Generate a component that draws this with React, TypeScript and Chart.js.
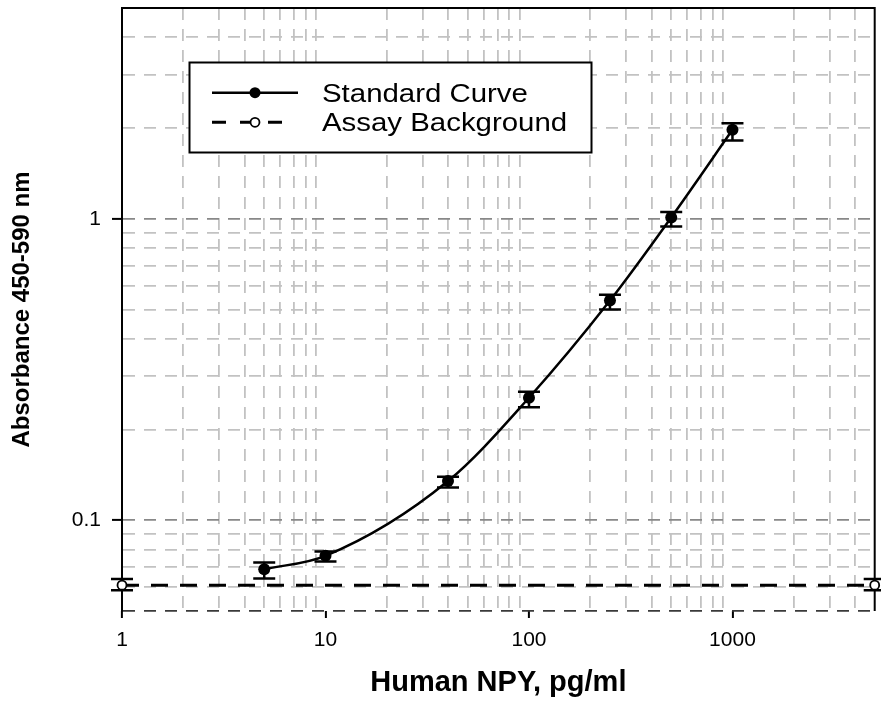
import React, { useEffect, useRef } from 'react';
import { Chart, registerables } from 'chart.js';

Chart.register(...registerables);

// ---- data ----
const concentrations = [5, 10, 40, 100, 250, 500, 1000];
const absorbance = [0.0688, 0.0762, 0.1349, 0.2549, 0.5353, 1.01, 1.972];
const absorbanceUpper = [0.0724, 0.0788, 0.1395, 0.2668, 0.56, 1.052, 2.074];
const absorbanceLower = [0.0641, 0.073, 0.1283, 0.2372, 0.4996, 0.943, 1.816];

const backgroundX = [1, 5000];
const backgroundY = [0.0609, 0.0609];
const backgroundUpper = [0.0638, 0.0638];
const backgroundLower = [0.0586, 0.0586];

const xGridValues = [
  1, 2, 3, 4, 5, 6, 7, 8, 9,
  10, 20, 30, 40, 50, 60, 70, 80, 90,
  100, 200, 300, 400, 500, 600, 700, 800, 900,
  1000, 2000, 3000, 4000, 5000,
];
const xLabelValues = [1, 10, 100, 1000];
const xTickLabels = ['1', '10', '100', '1000'];

const yGridValues = [
  0.05, 0.06, 0.07, 0.08, 0.09,
  0.1, 0.2, 0.3, 0.4, 0.5, 0.6, 0.7, 0.8, 0.9,
  1, 2, 3, 4, 5,
];
const yLabelValues = [0.1, 1];
const yTickLabels = ['0.1', '1'];

const seriesNames = ['Standard Curve', 'Assay Background'];
const xTitle = 'Human NPY, pg/ml';
const yTitle = 'Absorbance 450-590 nm';

const FONT = "'Liberation Sans', Arial, Helvetica, sans-serif";
const LIGHT = '#c2c2c2';
const MID = '#888888';
const DARK = '#3a3a3a';
const TRANSPARENT = 'rgba(0,0,0,0)';

const errorSets = [
  { xs: concentrations, upper: absorbanceUpper, lower: absorbanceLower },
  { xs: backgroundX, upper: backgroundUpper, lower: backgroundLower },
];

const errorBarPlugin = {
  id: 'errorBars',
  beforeDatasetsDraw(chart: any) {
    const { ctx } = chart;
    const xs = chart.scales.x;
    const ys = chart.scales.y;
    const area = chart.chartArea;
    ctx.save();
    // frame: top and right edges
    ctx.strokeStyle = '#000';
    ctx.lineWidth = 2;
    ctx.setLineDash([]);
    ctx.beginPath();
    ctx.moveTo(area.left, area.top);
    ctx.lineTo(area.right, area.top);
    ctx.lineTo(area.right, area.bottom);
    ctx.stroke();
    // error bars
    const half = 11;
    ctx.lineWidth = 2.5;
    errorSets.forEach((set) => {
      set.xs.forEach((xv, i) => {
        const x = xs.getPixelForValue(xv);
        const yU = ys.getPixelForValue(set.upper[i]);
        const yL = ys.getPixelForValue(set.lower[i]);
        ctx.beginPath();
        ctx.moveTo(x, yU);
        ctx.lineTo(x, yL);
        ctx.moveTo(x - half, yU);
        ctx.lineTo(x + half, yU);
        ctx.moveTo(x - half, yL);
        ctx.lineTo(x + half, yL);
        ctx.stroke();
      });
    });
    ctx.restore();
  },
};

const legendPlugin = {
  id: 'insideLegend',
  afterDraw(chart: any) {
    const { ctx } = chart;
    ctx.save();
    // box
    ctx.fillStyle = '#fff';
    ctx.fillRect(189.5, 62.5, 402, 90);
    ctx.strokeStyle = '#000';
    ctx.lineWidth = 2;
    ctx.setLineDash([]);
    ctx.strokeRect(189.5, 62.5, 402, 90);

    const rows = [92.7, 122.3];
    const baselines = [101.7, 130.7];
    // row 1: solid line + filled marker
    ctx.lineWidth = 2.5;
    ctx.beginPath();
    ctx.moveTo(212, rows[0]);
    ctx.lineTo(298, rows[0]);
    ctx.stroke();
    ctx.fillStyle = '#000';
    ctx.beginPath();
    ctx.arc(255, rows[0], 5.5, 0, Math.PI * 2);
    ctx.fill();
    // row 2: dashed line + open marker
    ctx.lineWidth = 3;
    ctx.setLineDash([14, 14]);
    ctx.beginPath();
    ctx.moveTo(212, rows[1]);
    ctx.lineTo(291, rows[1]);
    ctx.stroke();
    ctx.setLineDash([]);
    ctx.fillStyle = '#fff';
    ctx.lineWidth = 1.8;
    ctx.beginPath();
    ctx.arc(255, rows[1], 4.5, 0, Math.PI * 2);
    ctx.fill();
    ctx.stroke();

    // texts (slightly widened to match the reference lettering)
    ctx.fillStyle = '#000';
    ctx.font = `25.5px ${FONT}`;
    ctx.textBaseline = 'alphabetic';
    ctx.textAlign = 'left';
    seriesNames.forEach((name, i) => {
      ctx.save();
      ctx.translate(322, baselines[i]);
      ctx.scale(1.153, 1);
      ctx.fillText(name, 0, 0);
      ctx.restore();
    });
    ctx.restore();
  },
};

export default function App() {
  const ref = useRef<HTMLCanvasElement>(null);

  useEffect(() => {
    const canvas = ref.current;
    if (!canvas) return;
    const chart = new Chart(canvas, {
      type: 'line',
      data: {
        datasets: [
          {
            label: seriesNames[0],
            data: concentrations.map((x, i) => ({ x, y: absorbance[i] })),
            borderColor: '#000',
            backgroundColor: '#000',
            borderWidth: 2.5,
            pointRadius: 6,
            pointBackgroundColor: '#000',
            pointBorderColor: '#000',
            pointBorderWidth: 0,
            cubicInterpolationMode: 'monotone',
            fill: false,
          },
          {
            label: seriesNames[1],
            data: backgroundX.map((x, i) => ({ x, y: backgroundY[i] })),
            borderColor: '#000',
            backgroundColor: '#fff',
            borderWidth: 3,
            borderDash: [17, 12],
            pointRadius: 4.5,
            pointBackgroundColor: '#fff',
            pointBorderColor: '#000',
            pointBorderWidth: 1.8,
            fill: false,
            clip: false,
          } as any,
        ],
      },
      options: {
        responsive: false,
        animation: false,
        events: [],
        layout: { padding: { left: 0, top: 8, right: 4, bottom: 0 } },
        plugins: {
          legend: { display: false },
          tooltip: { enabled: false },
        },
        scales: {
          x: {
            type: 'logarithmic',
            min: 1,
            max: 5000,
            afterBuildTicks: (s: any) => {
              s.ticks = xGridValues.map((v) => ({ value: v }));
            },
            afterFit: (s: any) => {
              s.height = 91;
              s.paddingLeft = 0;
              s.paddingRight = 0;
            },
            ticks: {
              autoSkip: false,
              maxRotation: 0,
              minRotation: 0,
              padding: 10,
              color: '#000',
              font: { family: FONT, size: 21 },
              callback: (v: any) => {
                const k = xLabelValues.indexOf(Number(v));
                return k >= 0 ? xTickLabels[k] : '';
              },
            },
            grid: {
              lineWidth: 1.8,
              color: (c: any) => {
                const v = c.tick ? c.tick.value : 0;
                if (v === 1 || v === 5000 || xLabelValues.includes(v)) return TRANSPARENT;
                return LIGHT;
              },
              tickLength: 7,
              tickWidth: 2,
              tickColor: (c: any) => {
                const v = c.tick ? c.tick.value : 0;
                return xLabelValues.includes(v) ? '#000' : TRANSPARENT;
              },
            },
            border: { display: false, dash: [12, 9] },
            title: {
              display: true,
              text: xTitle,
              color: '#000',
              font: { family: FONT, size: 29, weight: 'bold' },
              padding: { top: 0, bottom: 2 },
            },
          },
          y: {
            type: 'logarithmic',
            min: 0.05,
            max: 5,
            afterBuildTicks: (s: any) => {
              s.ticks = yGridValues.map((v) => ({ value: v }));
            },
            afterFit: (s: any) => {
              s.width = 122;
              s.paddingTop = 0;
              s.paddingBottom = 0;
            },
            ticks: {
              autoSkip: false,
              padding: 11,
              color: '#000',
              font: { family: FONT, size: 21 },
              callback: (v: any) => {
                const k = yLabelValues.indexOf(Number(v));
                return k >= 0 ? yTickLabels[k] : '';
              },
            },
            grid: {
              lineWidth: 1.8,
              color: (c: any) => {
                const v = c.tick ? c.tick.value : 0;
                if (v === 5) return TRANSPARENT;
                if (v === 0.05) return DARK;
                if (yLabelValues.includes(v)) return MID;
                return LIGHT;
              },
              tickLength: 10,
              tickWidth: 2,
              tickColor: (c: any) => {
                const v = c.tick ? c.tick.value : 0;
                return yLabelValues.includes(v) ? '#000' : TRANSPARENT;
              },
            },
            border: { display: true, color: '#000', width: 2, dash: [12, 9] },
            title: {
              display: true,
              text: yTitle,
              color: '#000',
              font: { family: FONT, size: 24, weight: 'bold' },
              padding: { top: 8, bottom: 0 },
            },
          },
        },
      } as any,
      plugins: [errorBarPlugin, legendPlugin],
    });
    return () => chart.destroy();
  }, []);

  return (
    <div style={{ position: 'absolute', left: 0, top: 0, width: 881, height: 702, background: '#fff' }}>
      <canvas ref={ref} width={881} height={702} style={{ display: 'block' }} />
    </div>
  );
}
